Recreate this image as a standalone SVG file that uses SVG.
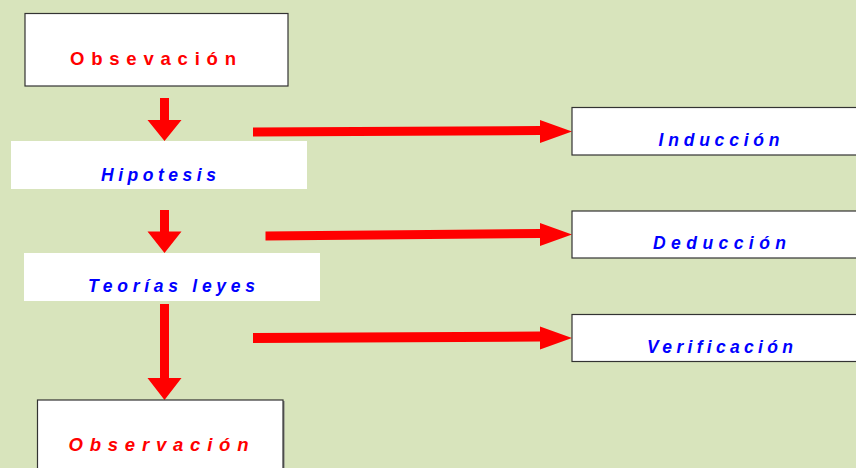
<svg xmlns="http://www.w3.org/2000/svg" width="856" height="468" viewBox="0 0 856 468">
<style>
.box{fill:#ffffff;stroke:#333333;stroke-width:1.2}
.plain{fill:#ffffff;stroke:none}
.shadow{fill:#777777}
.red{font-family:"Liberation Sans",Arial,sans-serif;font-size:18.5px;font-weight:bold;fill:#ff0000}
.blue{font-family:"Liberation Sans",Arial,sans-serif;font-size:17.5px;font-weight:bold;font-style:italic;fill:#0000ff}
.arrow{fill:#ff0000;stroke:none}
</style>
<rect width="856" height="468" fill="#d8e4bc"/>
<g id="connectors">
<polygon class="arrow" points="160,98 169,98 169,120 181.5,120 164.5,141 147.5,120 160,120"/>
<polygon class="arrow" points="160,210 169,210 169,231.5 181.5,231.5 164.5,253 147.5,231.5 160,231.5"/>
<polygon class="arrow" points="160,304 169,304 169,378 181.5,378 164.5,400 147.5,378 160,378"/>
<polygon class="arrow" points="253,127.5 540,126 540,120 572,131.5 540,143 540,135 253,136.5"/>
<polygon class="arrow" points="265.5,231.5 540,229 540,223 572,234.5 540,246 540,238 265.5,240.5"/>
<polygon class="arrow" points="253,333 540,331.5 540,326.5 572,338 540,349.5 540,341.5 253,343"/>
</g>
<g id="observacion1">
<rect class="box" x="25" y="13.5" width="263" height="72.5"/>
<text class="red" x="70" y="65" textLength="166" lengthAdjust="spacing">Obsevación</text>
</g>
<g id="hipotesis">
<rect class="plain" x="11" y="141" width="296" height="48"/>
<text class="blue" x="101" y="180.5" textLength="115" lengthAdjust="spacing">Hipotesis</text>
</g>
<g id="teorias">
<rect class="plain" x="24" y="253" width="296" height="48"/>
<text class="blue" x="88" y="291.5" textLength="167" lengthAdjust="spacing">Teorías leyes</text>
</g>
<g id="observacion2">
<rect class="shadow" x="283" y="401" width="1.5" height="70"/>
<rect class="box" x="37.5" y="400" width="245.5" height="80"/>
<text class="red" x="68.5" y="451" font-style="italic" textLength="180" lengthAdjust="spacing">Observación</text>
</g>
<g id="induccion">
<rect class="box" x="572" y="107.5" width="290" height="47.5"/>
<text class="blue" x="658.5" y="145.5" textLength="121" lengthAdjust="spacing">Inducción</text>
</g>
<g id="deduccion">
<rect class="box" x="572" y="211" width="290" height="47"/>
<text class="blue" x="653" y="249" textLength="133" lengthAdjust="spacing">Deducción</text>
</g>
<g id="verificacion">
<rect class="box" x="572" y="314.5" width="290" height="47"/>
<text class="blue" x="647" y="352.5" textLength="146" lengthAdjust="spacing">Verificación</text>
</g>
</svg>
